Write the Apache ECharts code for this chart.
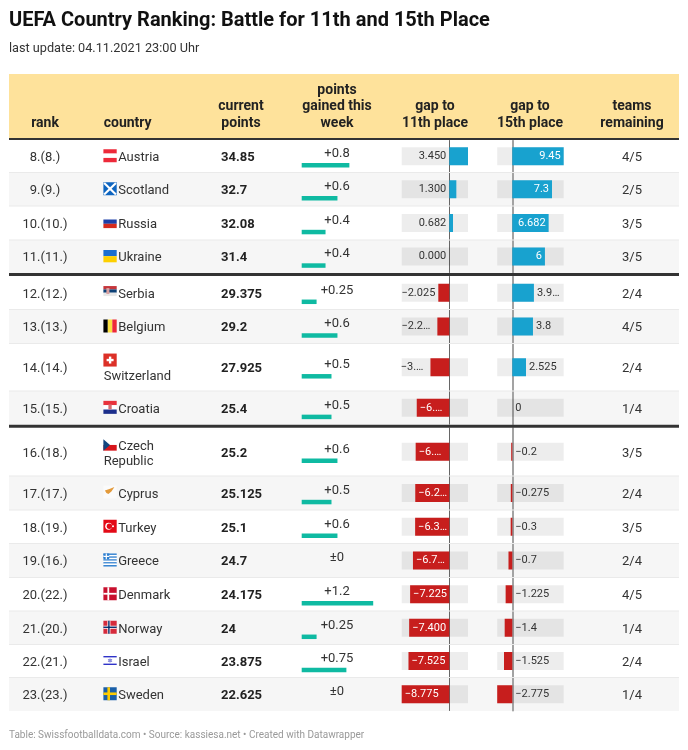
<!DOCTYPE html>
<html>
<head>
<meta charset="utf-8">
<title>UEFA Country Ranking</title>
<style>
  html, body { margin: 0; padding: 0; background: #fff; }
  #chart { width: 688px; height: 750px; }
</style>
<script src="https://cdn.jsdelivr.net/npm/echarts@6/dist/echarts.min.js"></script>
</head>
<body>
<div id="chart"></div>
<script>
// table data
const ranks = ['8.(8.)', '9.(9.)', '10.(10.)', '11.(11.)', '12.(12.)', '13.(13.)', '14.(14.)', '15.(15.)',
  '16.(18.)', '17.(17.)', '18.(19.)', '19.(16.)', '20.(22.)', '21.(20.)', '22.(21.)', '23.(23.)']
const countries = ['Austria', 'Scotland', 'Russia', 'Ukraine', 'Serbia', 'Belgium', 'Switzerland', 'Croatia',
  'Czech Republic', 'Cyprus', 'Turkey', 'Greece', 'Denmark', 'Norway', 'Israel', 'Sweden']
const points = ['34.85', '32.7', '32.08', '31.4', '29.375', '29.2', '27.925', '25.4',
  '25.2', '25.125', '25.1', '24.7', '24.175', '24', '23.875', '22.625']
const gained = [0.8, 0.6, 0.4, 0.4, 0.25, 0.6, 0.5, 0.5, 0.6, 0.5, 0.6, 0, 1.2, 0.25, 0.75, 0]
const gainedLabels = ['+0.8', '+0.6', '+0.4', '+0.4', '+0.25', '+0.6', '+0.5', '+0.5',
  '+0.6', '+0.5', '+0.6', '±0', '+1.2', '+0.25', '+0.75', '±0']
const gap11 = [3.45, 1.3, 0.682, 0, -2.025, -2.2, -3.475, -6, -6.2, -6.275, -6.3, -6.7, -7.225, -7.4, -7.525, -8.775]
const gap11Labels = ['3.450', '1.300', '0.682', '0.000', '−2.025', '−2.2…', '−3.…', '−6.…',
  '−6.…', '−6.2…', '−6.3…', '−6.7…', '−7.225', '−7.400', '−7.525', '−8.775']
const gap15 = [9.45, 7.3, 6.682, 6, 3.975, 3.8, 2.525, 0, -0.2, -0.275, -0.3, -0.7, -1.225, -1.4, -1.525, -2.775]
const gap15Labels = ['9.45', '7.3', '6.682', '6', '3.9…', '3.8', '2.525', '0',
  '−0.2', '−0.275', '−0.3', '−0.7', '−1.225', '−1.4', '−1.525', '−2.775']
const teams = ['4/5', '2/5', '3/5', '3/5', '2/4', '4/5', '2/4', '1/4', '3/5', '2/4', '3/5', '2/4', '4/5', '1/4', '2/4', '1/4']

// layout of the table (row edges in px)
const rowTops = [140, 172.5, 206, 240, 276, 309.5, 343.5, 391, 427.5, 476, 510, 543.5, 577.5, 611, 644.5, 677.5]
const rowBottoms = [172.5, 206, 240, 273, 309.5, 343.5, 391, 424.7, 476, 510, 543.5, 577.5, 611, 644.5, 677.5, 711]
const FONT = 'Roboto'
const DARK = '#333333'
const RED = '#c71e1d'
const BLUE = '#18a2cf'
const GREEN = '#0fbaa2'
const LEFT = 9, RIGHT = 679

const els = []
const rect = (x, y, w, h, fill, z) => els.push({ type: 'rect', silent: true, z: z || 0, shape: { x, y, width: w, height: h }, style: { fill } })
const text = (str, x, y, align, opt) => els.push({
  type: 'text', silent: true, z: 10,
  style: Object.assign({ text: str, x, y, align: align || 'left', verticalAlign: 'middle', fontFamily: FONT, fontSize: 13, fill: DARK }, opt)
})
const circle = (cx, cy, r, fill) => els.push({ type: 'circle', silent: true, z: 3, shape: { cx, cy, r }, style: { fill } })
const poly = (pts, fill) => els.push({ type: 'polygon', silent: true, z: 3, shape: { points: pts }, style: { fill } })

// flags are small decorations, drawn in a 13.3 x 13 box
function stripes(x, y, h, colors) {
  colors.forEach((c, i) => rect(x, y + i * h / colors.length, 13.3, h / colors.length, c, 3))
}
function cross(x, y, bg, fg, w) {
  rect(x, y, 13.3, 13, bg, 3)
  rect(x + 4, y, w, 13, fg, 3)
  rect(x, y + 6.5 - w / 2, 13.3, w, fg, 3)
}
function drawFlag(name, x, y) {
  if (name == 'Austria') stripes(x, y, 13, ['#ed2939', '#fff', '#ed2939'])
  if (name == 'Scotland') {
    rect(x, y, 13.3, 13, '#0e65c0', 3)
    poly([[x, y + 1.5], [x + 1.5, y], [x + 13.3, y + 11.5], [x + 11.8, y + 13]], '#fff')
    poly([[x + 13.3, y + 1.5], [x + 11.8, y], [x, y + 11.5], [x + 1.5, y + 13]], '#fff')
  }
  if (name == 'Russia') stripes(x, y + 4, 8.6, ['#1c3fa8', '#d52b1e'])
  if (name == 'Ukraine') stripes(x, y + 0.5, 12.3, ['#1a6fd0', '#fdd000'])
  if (name == 'Serbia') {
    stripes(x, y, 10, ['#c6363c', '#0c4076', '#e8e8e8'])
    rect(x + 3, y + 2, 3, 6, '#d9a0a0', 4)
  }
  if (name == 'Belgium') {
    rect(x, y, 4.4, 13, '#000', 3)
    rect(x + 4.4, y, 4.5, 13, '#fae042', 3)
    rect(x + 8.9, y, 4.4, 13, '#ed2939', 3)
  }
  if (name == 'Switzerland') {
    rect(x, y, 13.3, 13, '#dc3027', 3)
    rect(x + 5.5, y + 3, 2.4, 7, '#fff', 4)
    rect(x + 3.2, y + 5.3, 7, 2.4, '#fff', 4)
  }
  if (name == 'Croatia') {
    stripes(x, y, 13, ['#e8323c', '#fff', '#1c2f8c'])
    rect(x + 5, y + 3.5, 3.3, 5, '#d76a70', 4)
  }
  if (name == 'Czech Republic') {
    stripes(x, y, 11.4, ['#fff', '#d7141a'])
    poly([[x, y], [x + 6.6, y + 5.7], [x, y + 11.4]], '#11457e')
  }
  if (name == 'Cyprus') {
    rect(x, y, 13.3, 13, '#fbfbfb', 2)
    poly([[x + 1.5, y + 5], [x + 6, y + 3.5], [x + 11, y + 1.5], [x + 8, y + 6], [x + 5, y + 8.5], [x + 3, y + 7.5]], '#e39a3b')
  }
  if (name == 'Turkey') {
    rect(x, y, 13.3, 13, '#e30a17', 3)
    circle(x + 5.2, y + 6.5, 3.4, '#fff')
    circle(x + 6, y + 6.5, 2.7, '#e30a17')
    circle(x + 9.6, y + 6.5, 1, '#fff')
  }
  if (name == 'Greece') {
    stripes(x, y, 13, ['#2d7fd0', '#fff', '#2d7fd0', '#fff', '#2d7fd0', '#fff', '#2d7fd0', '#fff', '#2d7fd0'])
    rect(x, y, 5.8, 5.8, '#2d7fd0', 4)
    rect(x + 2.3, y, 1.2, 5.8, '#fff', 5)
    rect(x, y + 2.3, 5.8, 1.2, '#fff', 5)
  }
  if (name == 'Denmark') cross(x, y, '#c8102e', '#fff', 1.8)
  if (name == 'Norway') {
    cross(x, y, '#d62b3c', '#fff', 3)
    rect(x + 4.8, y, 1.4, 13, '#002868', 4)
    rect(x, y + 5.8, 13.3, 1.4, '#002868', 4)
  }
  if (name == 'Israel') {
    rect(x, y + 1, 13.3, 1.4, '#2f33c8', 3)
    rect(x, y + 8.6, 13.3, 1.4, '#2f33c8', 3)
    poly([[x + 6.6, y + 3], [x + 9, y + 7], [x + 4.3, y + 7]], '#8f90dd')
    poly([[x + 6.6, y + 8], [x + 9, y + 4], [x + 4.3, y + 4]], '#8f90dd')
  }
  if (name == 'Sweden') cross(x, y, '#1a5fa8', '#fecc02', 2.6)
}
// vertical start of each flag relative to the row centre
const flagTop = { Russia: -7.5, Ukraine: -7, Serbia: -6.7, 'Czech Republic': -12.5, Switzerland: -13.7, Cyprus: -7.5, Israel: -6 }

// header
rect(LEFT, 74, RIGHT - LEFT, 64, '#fee29b')
rect(LEFT, 138, RIGHT - LEFT, 2, DARK, 6)
const headerStyle = { fontWeight: 'bold', fill: '#222', fontSize: 14 }
text('rank', 45, 123, 'center', headerStyle)
text('country', 103.7, 123, 'left', headerStyle)
text('current', 241, 106.5, 'center', headerStyle)
text('points', 241, 123, 'center', headerStyle)
text('points', 337, 90, 'center', headerStyle)
text('gained this', 337, 106.5, 'center', headerStyle)
text('week', 337, 123, 'center', headerStyle)
text('gap to', 435, 106.5, 'center', headerStyle)
text('11th place', 435, 123, 'center', headerStyle)
text('gap to', 530, 106.5, 'center', headerStyle)
text('15th place', 530, 123, 'center', headerStyle)
text('teams', 632, 106.5, 'center', headerStyle)
text('remaining', 632, 123, 'center', headerStyle)

// rows
ranks.forEach((rank, i) => {
  const top = rowTops[i], bottom = rowBottoms[i], mid = (top + bottom) / 2
  if (i % 2 == 1) rect(LEFT, top, RIGHT - LEFT, bottom - top, '#f6f6f6')
  if (i != 3 && i != 7 && i != 15) rect(LEFT, bottom - 0.5, RIGHT - LEFT, 1, '#eaeaea', 1)
  text(rank, 45, mid + 1.5, 'center')
  const name = countries[i]
  const fy = mid + (name in flagTop ? flagTop[name] : -7)
  drawFlag(name, 103.4, fy)
  if (name == 'Switzerland') {
    text(name, 103.7, mid + 9.5)
  } else if (name == 'Czech Republic') {
    text('Czech', 118.2, mid - 5.5)
    text('Republic', 103.7, mid + 9.5)
  } else {
    text(name, 118.2, mid + 1.5)
  }
  text(points[i], 221, mid + 1.5, 'left', { fontWeight: 'bold', fill: '#222' })
  text(gainedLabels[i], 337, mid - 2.5, 'center')
  text(teams[i], 632, mid + 1.5, 'center')
})
rect(LEFT, 273, RIGHT - LEFT, 3, DARK, 6)
rect(LEFT, 424.7, RIGHT - LEFT, 3, DARK, 6)

// footer
text('Table: Swissfootballdata.com • Source: kassiesa.net • Created with Datawrapper', 9, 735, 'left', { fontSize: 10, fill: '#999' })

// every bar cell gets its own small grid, so uneven row heights stay easy
const grids = [], xAxes = [], yAxes = [], series = []
function addCell(box, range, name, barData, barWidth, bg, lineStyle) {
  const idx = grids.length
  grids.push(Object.assign({ containLabel: false }, box))
  xAxes.push({ gridIndex: idx, type: 'value', min: range[0], max: range[1], show: false })
  yAxes.push({
    gridIndex: idx, type: 'category', data: [name],
    axisTick: { show: false }, axisLabel: { show: false }, splitLine: { show: false },
    axisLine: lineStyle ? { show: true, onZero: true, lineStyle } : { show: false }
  })
  series.push({
    type: 'bar', xAxisIndex: idx, yAxisIndex: idx, data: [barData], barWidth,
    showBackground: !!bg, backgroundStyle: { color: bg }, silent: true, animation: false
  })
}

function gapLabel(label, value, inside, outsideDist) {
  if (inside) return { show: true, formatter: label, position: value > 0 ? 'insideRight' : 'insideLeft', distance: 3, color: '#fff', fontFamily: FONT, fontSize: 11 }
  return { show: true, formatter: label, position: outsideDist[0], distance: outsideDist[1], color: '#333', fontFamily: FONT, fontSize: 11 }
}

countries.forEach((name, i) => {
  const top = rowTops[i], bottom = rowBottoms[i], mid = (top + bottom) / 2
  // points gained
  addCell({ left: 301.7, width: 71.5, top: mid + 6.8, height: 4.5 }, [0, 1.2], name,
    { value: gained[i], itemStyle: { color: GREEN } }, 4.5)

  // gap to 11th place
  const g11 = gap11[i]
  const g11Inside = g11 <= -6
  const cut = gap11Labels[i].endsWith('…')
  addCell({ left: 401.7, width: 66.3, top: top + 0.5, height: bottom - top - 1 }, [-8.775, 3.45], name, {
    value: g11,
    itemStyle: { color: g11 < 0 ? RED : BLUE },
    label: gapLabel(gap11Labels[i], g11, g11Inside, ['left', cut ? 7 : 3])
  }, 18, 'rgba(0,0,0,0.07)', { color: '#666', width: 1 })

  // gap to 15th place
  const g15 = gap15[i]
  addCell({ left: 497.2, width: 66.5, top: top + 0.5, height: bottom - top - 1 }, [-2.775, 9.45], name, {
    value: g15,
    itemStyle: { color: g15 < 0 ? RED : BLUE },
    label: gapLabel(gap15Labels[i], g15, g15 >= 6, ['right', 3])
  }, 18, 'rgba(0,0,0,0.07)', { color: '#a3a3a3', width: 2 })
})

const chart = echarts.init(document.getElementById('chart'))
chart.setOption({
  animation: false,
  backgroundColor: '#fff',
  title: [
    { text: 'UEFA Country Ranking: Battle for 11th and 15th Place', left: 9, top: 9, padding: 0,
      textStyle: { fontFamily: FONT, fontSize: 20, fontWeight: 'bold', color: '#111', lineHeight: 24 } },
    { text: 'last update: 04.11.2021 23:00 Uhr', left: 9, top: 41, padding: 0,
      textStyle: { fontFamily: FONT, fontSize: 12.7, fontWeight: 'normal', color: '#333', lineHeight: 15 } }
  ],
  grid: grids,
  xAxis: xAxes,
  yAxis: yAxes,
  series: series,
  graphic: { elements: els }
})
</script>
</body>
</html>
